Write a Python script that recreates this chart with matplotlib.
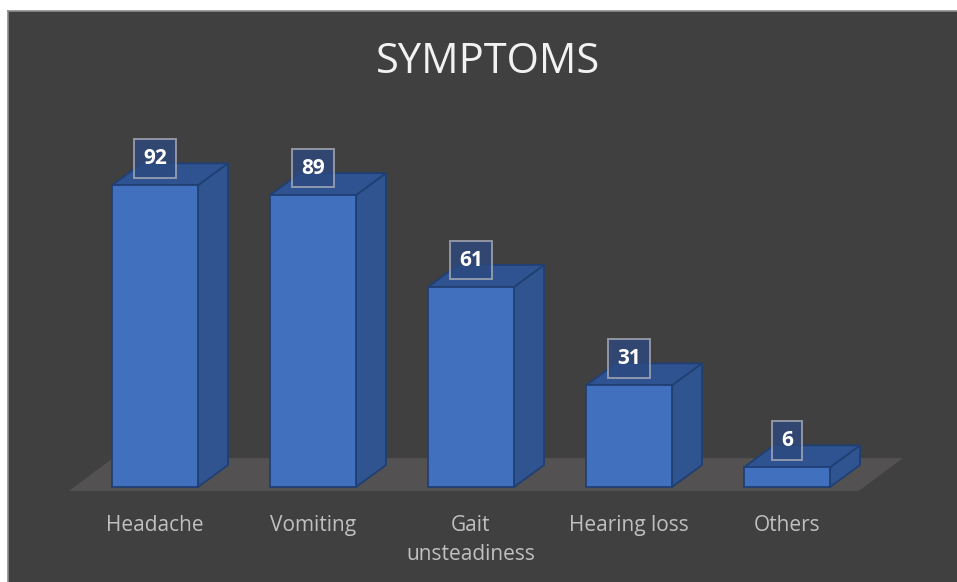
import matplotlib
matplotlib.use("Agg")
import matplotlib.pyplot as plt
from matplotlib.patches import Polygon, Rectangle

# Data
categories = ["Headache", "Vomiting", "Gait\nunsteadiness", "Hearing loss", "Others"]
values = [92, 89, 61, 31, 6]
title = "SYMPTOMS"

# Styling
BG = "#404040"
FRONT = "#4170bf"
SIDE = "#30548f"
TOP = "#2f5291"
EDGE = "#203f73"
FLOOR = "#535151"
LABEL = "#c0c0c0"
FONT = ["Open Sans", "DejaVu Sans"]

W, H, DPI = 957, 582, 100
fig = plt.figure(figsize=(W / DPI, H / DPI), dpi=DPI, facecolor="white")

# Chart area (pixel frame of the dark panel)
px_left, px_top = 8, 11
ax = fig.add_axes([px_left / W, 0, (W - px_left) / W, (H - px_top) / H])
ax.set_facecolor(BG)

# Scale: category spacing in px and px per value unit
x0_px, dx_px = 155.0, 158.0
y0_px, dy_px = 487.0, 3.28
ax.set_xlim((px_left - x0_px) / dx_px, (W - x0_px) / dx_px)
ax.set_ylim((y0_px - H) / dy_px, (y0_px - px_top) / dy_px)
ax.set_xticks([])
ax.set_yticks([])
for s in ["bottom", "right"]:
    ax.spines[s].set_visible(False)
for s in ["left", "top"]:
    ax.spines[s].set_color("#8c8c8c")
    ax.spines[s].set_linewidth(1.2)

# depth offsets in data units
half_w = 43 / dx_px
ddx = 30 / dx_px
ddy = 22 / dy_px

# floor
n = len(values)
fl_left, fl_right = -0.545, n - 1 + 0.455
fl_y0, fl_y1 = -1.2, 8.8
fl_dx = 44 / dx_px
ax.add_patch(Polygon([(fl_left, fl_y0), (fl_right, fl_y0),
                      (fl_right + fl_dx, fl_y1), (fl_left + fl_dx, fl_y1)],
                     closed=True, facecolor=FLOOR, edgecolor="none", zorder=1))

for i, v in enumerate(values):
    xl, xr = i - half_w, i + half_w
    # side face
    ax.add_patch(Polygon([(xr, 0), (xr + ddx, ddy), (xr + ddx, v + ddy), (xr, v)],
                         closed=True, facecolor=SIDE, edgecolor=EDGE, lw=1.3, zorder=2))
    # top face
    ax.add_patch(Polygon([(xl, v), (xr, v), (xr + ddx, v + ddy), (xl + ddx, v + ddy)],
                         closed=True, facecolor=TOP, edgecolor=EDGE, lw=1.3, zorder=2))
    # front face
    ax.add_patch(Rectangle((xl, 0), xr - xl, v, facecolor=FRONT,
                           edgecolor=EDGE, lw=1.3, zorder=3))
    # value label
    ax.text(i, v + 8.2, str(v), ha="center", va="center", color="white",
            fontsize=15, fontweight="bold", family=FONT, zorder=5,
            bbox=dict(boxstyle="square,pad=0.42", facecolor="#2d4a80", alpha=0.78,
                      edgecolor="#a9adb8", linewidth=1.4))
    # category label
    ax.text(i, -8.6, categories[i], ha="center", va="top", color=LABEL,
            fontsize=15, family=FONT, linespacing=1.5, zorder=5)

# title
ax.text(0.5 * (ax.get_xlim()[0] + ax.get_xlim()[1]) + (487.5 - (px_left + W) / 2) / dx_px,
        (y0_px - 62) / dy_px, title, ha="center", va="center", color="#f2f2f2",
        fontsize=30, family=FONT, zorder=5)

fig.savefig("out.png", dpi=DPI, facecolor=fig.get_facecolor())
